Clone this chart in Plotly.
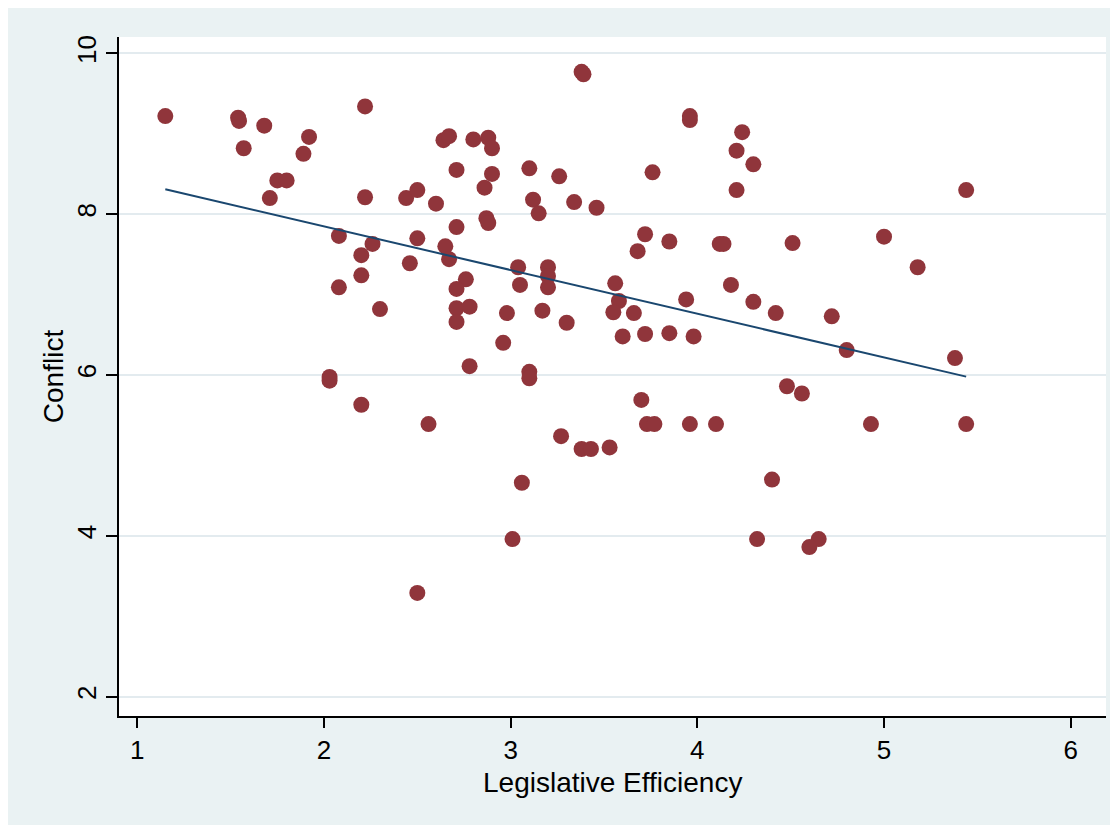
import plotly.graph_objects as go

# Legislative Efficiency (x) and Conflict (y)
efficiency = [
    1.15, 1.54, 1.545, 1.68, 1.57, 1.92, 1.89, 1.75, 1.80, 1.71,
    2.22, 2.22, 2.08, 2.26, 2.20, 2.20, 2.08, 2.30, 2.44, 2.50,
    2.60, 2.50, 2.46, 2.65, 2.67, 2.71, 2.64, 2.67, 2.80, 2.88,
    2.90, 2.90, 2.86, 2.87, 2.88, 2.71, 2.76, 2.71, 2.71, 2.78,
    2.71, 2.03, 2.03, 2.20, 2.56, 2.50, 2.78, 3.10, 3.10, 2.96,
    3.38, 3.39, 3.96, 3.96, 4.24, 4.21, 4.30, 4.21, 3.76, 3.34,
    3.46, 3.26, 3.10, 3.12, 3.15, 3.68, 3.72, 3.85, 4.12, 4.14,
    4.51, 5.00, 5.18, 5.44, 4.18, 3.94, 4.30, 4.42, 4.72, 4.80,
    5.38, 3.56, 3.58, 3.55, 3.66, 3.60, 3.72, 3.85, 3.98, 3.20,
    3.20, 3.20, 3.04, 3.05, 2.98, 3.17, 3.30, 3.27, 3.38, 3.43,
    3.53, 3.06, 3.01, 3.70, 3.73, 3.77, 3.96, 4.10, 4.48, 4.56,
    4.40, 4.32, 4.65, 4.60, 4.93, 5.44,
]
conflict = [
    9.22, 9.20, 9.16, 9.10, 8.82, 8.96, 8.75, 8.42, 8.42, 8.20,
    9.34, 8.21, 7.73, 7.63, 7.49, 7.24, 7.09, 6.82, 8.20, 8.30,
    8.13, 7.70, 7.39, 7.60, 7.44, 8.55, 8.92, 8.97, 8.93, 8.95,
    8.82, 8.50, 8.33, 7.95, 7.89, 7.84, 7.19, 7.07, 6.83, 6.85,
    6.66, 5.975, 5.93, 5.63, 5.39, 3.29, 6.11, 6.04, 5.96, 6.40,
    9.77, 9.74, 9.22, 9.17, 9.02, 8.79, 8.62, 8.30, 8.52, 8.15,
    8.08, 8.47, 8.57, 8.18, 8.01, 7.54, 7.75, 7.66, 7.63, 7.63,
    7.64, 7.72, 7.34, 8.30, 7.12, 6.94, 6.91, 6.77, 6.73, 6.31,
    6.21, 7.14, 6.92, 6.78, 6.77, 6.48, 6.51, 6.52, 6.48, 7.34,
    7.23, 7.09, 7.34, 7.12, 6.77, 6.80, 6.65, 5.24, 5.08, 5.08,
    5.10, 4.66, 3.96, 5.69, 5.39, 5.39, 5.39, 5.39, 5.86, 5.77,
    4.70, 3.96, 3.96, 3.86, 5.39, 5.39,
]

# Fitted values line (endpoints)
fit_x = [1.15, 5.44]
fit_y = [8.31, 5.98]

x_ticks = [1, 2, 3, 4, 5, 6]
y_ticks = [2, 4, 6, 8, 10]
x_title = "Legislative Efficiency"
y_title = "Conflict"

MAROON = "#90353B"
NAVY = "#1A476F"
BG = "#EAF2F3"
FONT = "Liberation Sans, Arial, Helvetica, sans-serif"

fig = go.Figure()
fig.add_trace(go.Scatter(
    x=efficiency, y=conflict, mode="markers",
    marker=dict(color=MAROON, size=16, line=dict(width=0)),
    showlegend=False, hoverinfo="x+y",
))
fig.add_trace(go.Scatter(
    x=fit_x, y=fit_y, mode="lines",
    line=dict(color=NAVY, width=2),
    showlegend=False,
))

fig.update_layout(
    width=1118, height=825,
    margin=dict(l=111, r=20, t=29, b=117, pad=0),
    paper_bgcolor=BG, plot_bgcolor="white",
    font=dict(family=FONT, color="black", size=26),
    annotations=[
        dict(text=x_title, xref="paper", yref="paper", x=0.5, y=0,
             xanchor="center", yanchor="top", yshift=-50,
             showarrow=False, borderpad=0, font=dict(size=28)),
    ],
)
fig.update_xaxes(
    range=[0.902, 6.189], tickvals=x_ticks, ticktext=[str(v) for v in x_ticks],
    showgrid=False, zeroline=False,
    showline=True, linecolor="black", linewidth=1.6,
    ticks="outside", ticklen=10, tickwidth=1.6, tickcolor="black",
    tickfont=dict(size=26),
)
fig.update_yaxes(
    range=[1.76, 10.203], tickvals=y_ticks, ticktext=[str(v) for v in y_ticks],
    tickangle=-90,
    showgrid=True, gridcolor="#E3EBEF", gridwidth=1.5, zeroline=False,
    showline=True, linecolor="black", linewidth=1.6,
    ticks="outside", ticklen=11, tickwidth=1.6, tickcolor="black",
    tickfont=dict(size=26),
    title=dict(text=y_title, font=dict(size=28), standoff=0),
)

fig.write_html("out.html")
